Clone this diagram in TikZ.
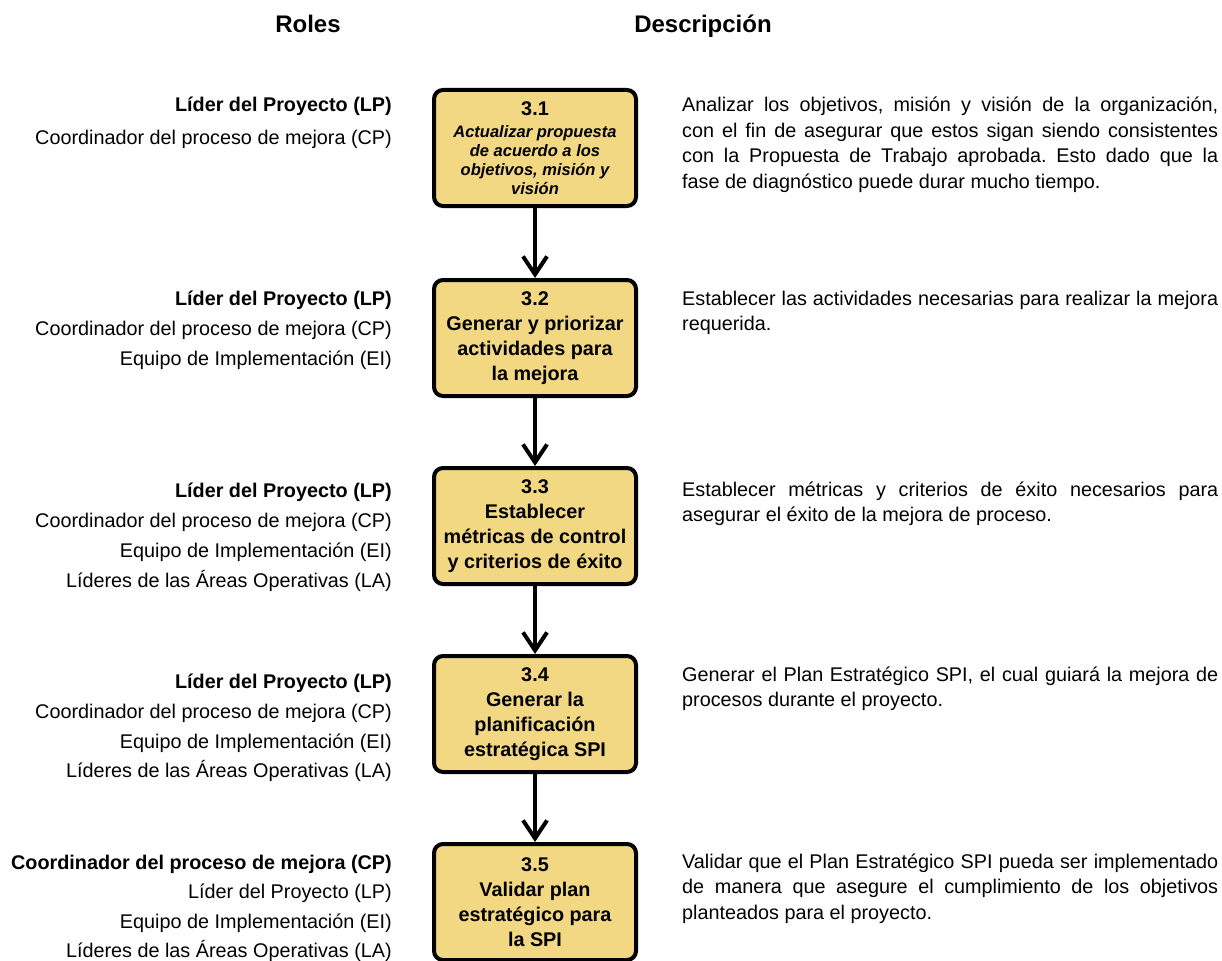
\documentclass[tikz,border=0pt]{standalone}
\usepackage{fontspec}
\setmainfont{Liberation Sans}
\usetikzlibrary{arrows.meta}
\definecolor{boxfill}{RGB}{242,216,130}
\newcommand\subt{\fontsize{16.5}{19}\selectfont\bfseries\itshape}
\frenchspacing
\begin{document}
\begin{tikzpicture}[x=1pt,y=-1pt,
  stepbox/.style={draw=black, line width=4pt, rounded corners=9pt, fill=boxfill,
    minimum width=202pt, minimum height=116pt, inner sep=0pt, align=center,
    font=\fontsize{19.8}{25}\selectfont\bfseries},
  role/.style={anchor=base east, inner sep=0pt, font=\fontsize{19.8}{24}\selectfont},
  rolemain/.style={anchor=base east, inner sep=0pt, font=\fontsize{19.8}{24}\selectfont\bfseries},
  desc/.style={anchor=base west, inner sep=0pt, text width=536pt, align=justify,
    font=\fontsize{19.8}{25.5}\selectfont\frenchspacing},
  head/.style={anchor=base, inner sep=0pt, font=\fontsize{24}{28}\selectfont\bfseries},
  flow/.style={-{Straight Barb[length=18pt,width=24pt]}, line width=4pt}
]
\useasboundingbox (0,0) rectangle (1222,960);

% headers
\node[head] (hroles) at (308,33) {Roles};
\node[head] (hdesc) at (703,33) {Descripción};

% boxes
\node[stepbox] (b1) at (535,148) {3.1\\[-3pt]\subt Actualizar propuesta\\[-6pt]\subt de acuerdo a los\\[-6pt]\subt objetivos, misión y\\[-6pt]\subt visión};
\node[stepbox] (b2) at (535,338) {3.2\\Generar y priorizar\\actividades para\\la mejora};
\node[stepbox] (b3) at (535,526) {3.3\\Establecer\\métricas de control\\y criterios de éxito};
\node[stepbox] (b4) at (535,714) {3.4\\Generar la\\planificación\\estratégica SPI};
\node[stepbox] (b5) at (535,902) {3.5\\Validar plan\\estratégico para\\la SPI};

\draw[flow] (b1.south) -- (b2.north);
\draw[flow] (b2.south) -- (b3.north);
\draw[flow] (b3.south) -- (b4.north);
\draw[flow] (b4.south) -- (b5.north);

% roles
\node[rolemain] (r11) at (392,112) {Líder del Proyecto (LP)};
\node[role] (r12) at (392,145) {Coordinador del proceso de mejora (CP)};

\node[rolemain] (r21) at (392,305) {Líder del Proyecto (LP)};
\node[role] (r22) at (392,335) {Coordinador del proceso de mejora (CP)};
\node[role] (r23) at (392,365) {Equipo de Implementación (EI)};

\node[rolemain] (r31) at (392,497) {Líder del Proyecto (LP)};
\node[role] (r32) at (392,527) {Coordinador del proceso de mejora (CP)};
\node[role] (r33) at (392,557) {Equipo de Implementación (EI)};
\node[role] (r34) at (392,587) {Líderes de las Áreas Operativas (LA)};

\node[rolemain] (r41) at (392,688) {Líder del Proyecto (LP)};
\node[role] (r42) at (392,718) {Coordinador del proceso de mejora (CP)};
\node[role] (r43) at (392,748) {Equipo de Implementación (EI)};
\node[role] (r44) at (392,777) {Líderes de las Áreas Operativas (LA)};

\node[rolemain] (r51) at (392,869) {Coordinador del proceso de mejora (CP)};
\node[role] (r52) at (392,898) {Líder del Proyecto (LP)};
\node[role] (r53) at (392,928) {Equipo de Implementación (EI)};
\node[role] (r54) at (392,957) {Líderes de las Áreas Operativas (LA)};

% descriptions
\node[desc] (d1) at (682,112) {Analizar los objetivos, misión y visión de la organización,\linebreak con el fin de asegurar que estos sigan siendo consistentes\linebreak con la Propuesta de Trabajo aprobada. Esto dado que la\linebreak fase de diagnóstico puede durar mucho tiempo.};
\node[desc] (d2) at (682,305) {Establecer las actividades necesarias para realizar la mejora\linebreak requerida.};
\node[desc] (d3) at (682,496) {Establecer métricas y criterios de éxito necesarios para\linebreak asegurar el éxito de la mejora de proceso.};
\node[desc] (d4) at (682,681) {Generar el Plan Estratégico SPI, el cual guiará la mejora de\linebreak procesos durante el proyecto.};
\node[desc] (d5) at (682,868) {Validar que el Plan Estratégico SPI pueda ser implementado\linebreak de manera que asegure el cumplimiento de los objetivos\linebreak planteados para el proyecto.};
\end{tikzpicture}
\end{document}
